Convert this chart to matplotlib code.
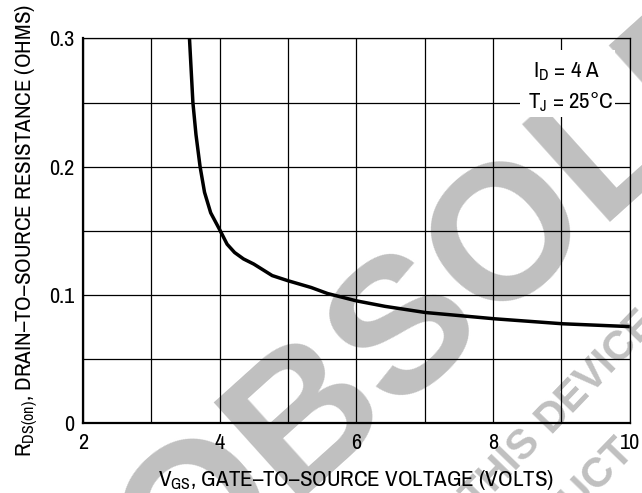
import matplotlib
matplotlib.use("Agg")
import matplotlib.pyplot as plt
from matplotlib import font_manager
from matplotlib.patches import Rectangle

# Izbor uskog fonta (slicno Helvetica Condensed)
fonts = font_manager.fontManager.ttflist
available = {f.name for f in fonts}
narrow_list = ['Liberation Sans Narrow', 'Archivo Narrow', 'Pragati Narrow',
               'Roboto Condensed', 'PT Sans Narrow', 'Arial Narrow']
narrow = next((n for n in narrow_list if n in available), 'Liberation Sans')
plt.rcParams['font.family'] = [narrow, 'DejaVu Sans']
plt.rcParams['mathtext.fontset'] = 'custom'
plt.rcParams['mathtext.rm'] = narrow

# Ocitane vrednosti krive
vgs = [3.56, 3.585, 3.61, 3.655, 3.715, 3.78, 3.87, 4.0, 4.11, 4.22, 4.35, 4.5,
       4.77, 5.0, 5.34, 5.58, 6.0, 6.42, 7.01, 8.02, 9.02, 10.0]
rds = [0.300, 0.275, 0.250, 0.225, 0.200, 0.180, 0.164, 0.151, 0.1395, 0.133,
       0.128, 0.124, 0.115, 0.111, 0.1057, 0.101, 0.0953, 0.091, 0.0862,
       0.0813, 0.0774, 0.0752]

xticks = [2, 4, 6, 8, 10]
ytick_labels = ['0', '', '0.1', '', '0.2', '', '0.3']

fig = plt.figure(figsize=(6.42, 4.93), dpi=100)
ax = fig.add_axes([0.129, 0.142, 0.852, 0.780])
ax.patch.set_visible(False)

# vodeni zig u pozadini
wm = '#c0c0c0'
fig.text(572 / 642, 1 - 250 / 493, 'OBSOLETE', fontsize=138, fontweight='bold',
         family='Liberation Sans', color=wm, rotation=42, rotation_mode='anchor',
         ha='center', va='baseline', zorder=-5)
wm_small = dict(fontsize=30, fontweight='bold', family='Liberation Sans', color=wm,
                rotation=46, rotation_mode='anchor', va='baseline', zorder=-5)
fig.text(550 / 642, 1 - 434 / 493, 'DEVICE', ha='left', **wm_small)
fig.text(542 / 642, 1 - 443 / 493, 'THIS', ha='right', **wm_small)
fig.text(635 / 642, 1 - 451 / 493, 'PRODUCT', ha='right', **wm_small)

ax.set_axisbelow(True)
ax.grid(True, color='black', linewidth=0.9)
ax.plot(vgs, rds, color='black', linewidth=2.5, solid_capstyle='butt', zorder=3)

ax.set(xlim=(2, 10), ylim=(0, 0.3))
ax.set_xticks(range(2, 11))
ax.set_xticklabels([str(v) if v in xticks else '' for v in range(2, 11)])
ax.set_yticks([i * 0.05 for i in range(7)])
ax.set_yticklabels(ytick_labels)
ax.tick_params(length=0, labelsize=16)
ax.tick_params(axis='x', pad=7)
ax.tick_params(axis='y', pad=6)

for side in ['left', 'bottom']:
    ax.spines[side].set_linewidth(1.6)
for side in ['top', 'right']:
    ax.spines[side].set_linewidth(0.9)

ax.add_patch(Rectangle((0.799, 0.796), 0.174, 0.174, transform=ax.transAxes,
                       facecolor='white', edgecolor='none', zorder=1.5))
ax.text(0.884, 0.915, r'I$_{\mathregular{D}}$ = 4 A', transform=ax.transAxes,
        fontsize=16.5, ha='center', va='center', zorder=4)
ax.text(0.891, 0.834, r'T$_{\mathregular{J}}$ = 25°C', transform=ax.transAxes,
        fontsize=16.5, ha='center', va='center', zorder=4)

ax.set_xlabel(r'V$_{\mathregular{GS}}$, GATE–TO–SOURCE VOLTAGE (VOLTS)',
              fontsize=16.5, labelpad=11)
ax.set_ylabel(r'R$_{\mathregular{DS(on)}}$, DRAIN–TO–SOURCE RESISTANCE (OHMS)',
              fontsize=16.5, labelpad=6)

fig.savefig('out.png', dpi=100)
